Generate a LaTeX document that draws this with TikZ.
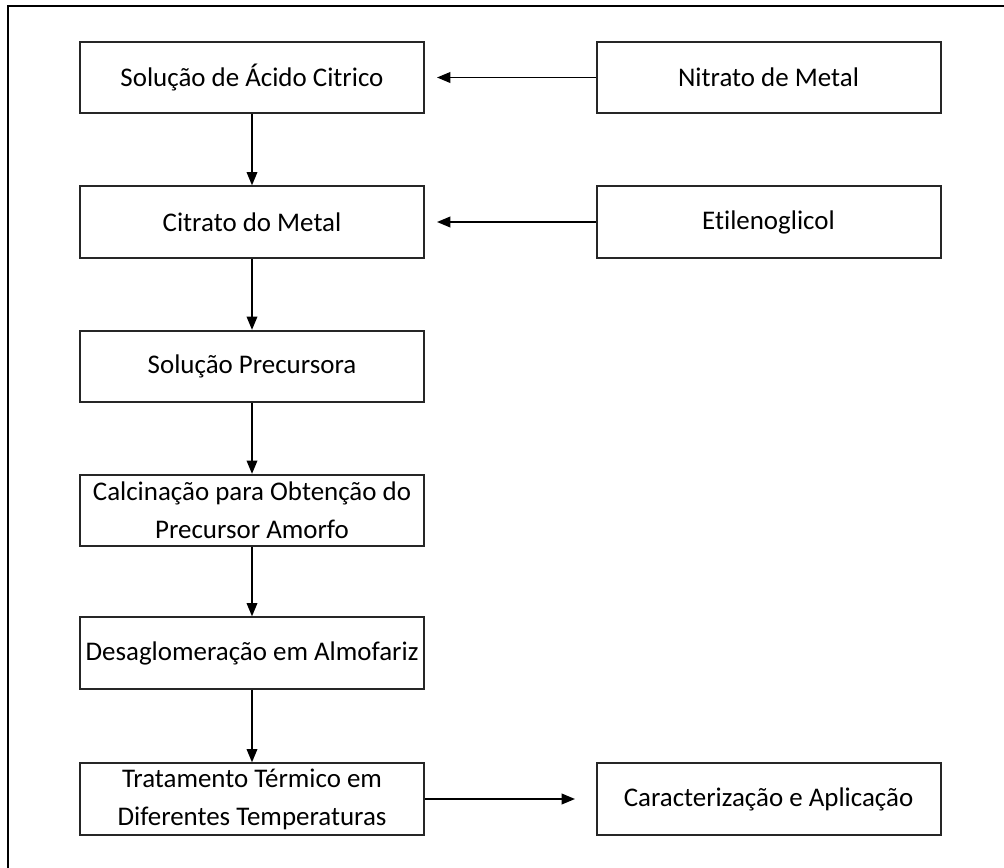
\documentclass[tikz,border=0pt]{standalone}
\usepackage{fontspec}
\setmainfont[Ligatures=NoCommon]{Carlito}
\usetikzlibrary{arrows.meta}
\tikzset{
  stepbox/.style={draw=black!85, line width=1.5pt, rectangle, align=center,
    minimum width=258pt, minimum height=53.5pt, inner sep=0pt,
    font=\fontsize{20.2}{28.5}\selectfont, text=black},
  conn/.style={draw=black, line width=1.2pt, -{Triangle[length=10pt,width=8pt]}}
}
\begin{document}
\begin{tikzpicture}[x=0.75pt,y=-0.75pt]
\useasboundingbox (0,0) rectangle (1004,868);
\draw[line width=1.6pt, black] (8,868) -- (8,6) -- (1004,6);
\node[stepbox] (a) at (252,77.5) {Solução de Ácido Citrico};
\node[stepbox] (n) at (768.5,77.5) {Nitrato de Metal};
\node[stepbox] (b) at (252,222) {Citrato do Metal};
\node[stepbox] (e) at (768.5,222) {Etilenoglicol};
\node[stepbox] (c) at (252,366.5) {Solução Precursora};
\node[stepbox] (d) at (252,510.5) {Calcinação para Obtenção do\\Precursor Amorfo};
\node[stepbox] (f) at (252,653) {Desaglomeração em Almofariz};
\node[stepbox] (g) at (252,799) {Tratamento Térmico em\\Diferentes Temperaturas};
\node[stepbox] (h) at (768.5,799) {Caracterização e Aplicação};
\coordinate (at) at (437,77.5);
\coordinate (bt) at (437,222);
\coordinate (ht) at (575,799);
\draw[conn] (n.west) -- (at);
\draw[conn] (e.west) -- (bt);
\draw[conn] (a) -- (b);
\draw[conn] (b) -- (c);
\draw[conn] (c) -- (d);
\draw[conn] (d) -- (f);
\draw[conn] (f) -- (g);
\draw[conn] (g.east) -- (ht);
\end{tikzpicture}
\end{document}
